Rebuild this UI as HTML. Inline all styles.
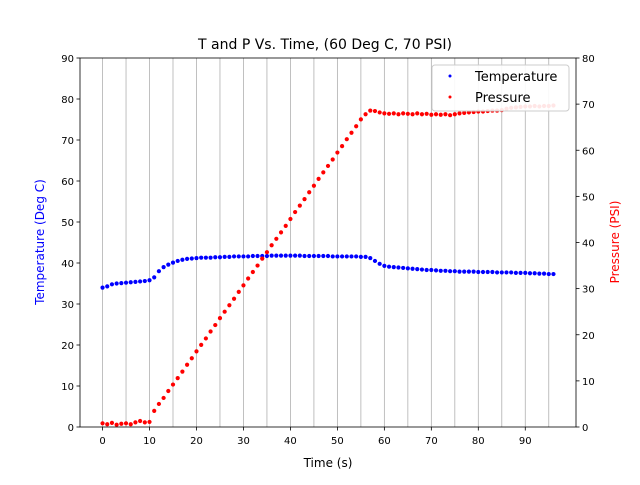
<!DOCTYPE html>
<html><head><meta charset="utf-8"><style>
body{margin:0;background:#fff;}
svg text{font-family:"DejaVu Sans","Liberation Sans",sans-serif;}
</style></head><body>
<svg id="c" width="640" height="480" xmlns="http://www.w3.org/2000/svg">
<rect width="640" height="480" fill="#fff"/>
<text x="325" y="49" font-size="14" text-anchor="middle">T and P Vs. Time, (60 Deg C, 70 PSI)</text>
<g id="grid"></g><g id="marks"></g><g id="axes"></g>
<text x="328" y="467" font-size="12" text-anchor="middle">Time (s)</text>
<text transform="translate(44,242) rotate(-90)" font-size="12" fill="blue" text-anchor="middle">Temperature (Deg C)</text>
<text transform="translate(619,242) rotate(-90)" font-size="12" fill="red" text-anchor="middle">Pressure (PSI)</text>
<g>
<rect x="432" y="65" width="137" height="46" rx="3" fill="#fff" fill-opacity="0.9" stroke="#ccc"/>
<circle cx="450" cy="76" r="1.5" fill="blue"/>
<text x="475" y="81" font-size="13">Temperature</text>
<circle cx="450" cy="97" r="1.5" fill="red"/>
<text x="475" y="102" font-size="13">Pressure</text>
</g>
</svg>
<script>
const times=[0,1,2,3,4,5,6,7,8,9,10,11,12,13,14,15,16,17,18,19,20,21,22,23,24,25,26,27,28,29,30,31,32,33,34,35,36,37,38,39,40,41,42,43,44,45,46,47,48,49,50,51,52,53,54,55,56,57,58,59,60,61,62,63,64,65,66,67,68,69,70,71,72,73,74,75,76,77,78,79,80,81,82,83,84,85,86,87,88,89,90,91,92,93,94,95,96];
const temperature=[34,34.3,34.8,35,35.1,35.2,35.3,35.4,35.5,35.6,35.8,36.5,38,39,39.6,40.1,40.5,40.8,41,41.1,41.2,41.3,41.3,41.3,41.4,41.4,41.5,41.5,41.6,41.6,41.6,41.6,41.7,41.7,41.7,41.7,41.8,41.8,41.8,41.8,41.8,41.8,41.8,41.7,41.7,41.7,41.7,41.7,41.7,41.6,41.6,41.6,41.6,41.6,41.6,41.5,41.5,41.2,40.5,39.8,39.3,39.1,39,38.9,38.8,38.7,38.6,38.5,38.4,38.3,38.3,38.2,38.1,38.1,38,38,37.9,37.9,37.9,37.9,37.8,37.8,37.8,37.8,37.7,37.7,37.7,37.7,37.6,37.6,37.6,37.5,37.5,37.4,37.4,37.3,37.3];
const pressure=[0.8,0.6,0.9,0.5,0.7,0.8,0.6,1.0,1.3,1.0,1.1,3.5,5,6.3,7.8,9.2,10.6,12,13.5,14.9,16.4,17.8,19.2,20.7,22.1,23.6,25,26.4,27.8,29.3,30.7,32.2,33.6,35,36.5,37.9,39.4,40.8,42.2,43.6,45.1,46.6,48,49.4,50.9,52.3,53.8,55.2,56.6,58,59.5,60.9,62.4,63.8,65.2,66.7,67.8,68.6,68.5,68.2,68,67.9,68,67.8,68,67.9,67.8,68,67.8,67.9,67.7,67.8,67.7,67.8,67.6,67.8,68,68.1,68.2,68.3,68.4,68.4,68.5,68.6,68.6,68.7,69,69.2,69.3,69.4,69.5,69.5,69.6,69.5,69.6,69.6,69.7];
const xTicks=[0,10,20,30,40,50,60,70,80,90];
const xGrid=[0,5,10,15,20,25,30,35,40,45,50,55,60,65,70,75,80,85,90,95];
const leftTicks=[0,10,20,30,40,50,60,70,80,90];
const rightTicks=[0,10,20,30,40,50,60,70,80];
const L=80,R=576,T=58,B=427,xmin=-4.8,xmax=100.8;
const sx=v=>L+(v-xmin)/(xmax-xmin)*(R-L);
const syL=v=>B-v/90*(B-T);
const syR=v=>B-v/80*(B-T);
const NS='http://www.w3.org/2000/svg';
function mk(tag,parent,attrs){const e=document.createElementNS(NS,tag);for(const k in attrs)e.setAttribute(k,attrs[k]);parent.appendChild(e);return e;}
const grid=document.getElementById('grid'),marks=document.getElementById('marks'),axes=document.getElementById('axes');
xGrid.forEach(v=>{const l=mk('line',grid,{x1:sx(v),x2:sx(v),y1:T,y2:B,stroke:'#b0b0b0','stroke-width':0.8});

});
times.forEach((t,i)=>{const c=mk('circle',marks,{cx:sx(t),cy:syL(temperature[i]),r:2.1,fill:'blue'});

});
times.forEach((t,i)=>{const c=mk('circle',marks,{cx:sx(t),cy:syR(pressure[i]),r:2.1,fill:'red'});

});
const fr=mk('rect',axes,{x:L,y:T,width:R-L,height:B-T,fill:'none',stroke:'#000','stroke-width':0.8});


xTicks.forEach(v=>{mk('line',axes,{x1:sx(v),x2:sx(v),y1:B,y2:B+3.5,stroke:'#000','stroke-width':0.8});
const t=mk('text',axes,{x:sx(v),y:B+17,'font-size':10,'text-anchor':'middle'});t.textContent=v;

});
leftTicks.forEach(v=>{mk('line',axes,{x1:L-3.5,x2:L,y1:syL(v),y2:syL(v),stroke:'#000','stroke-width':0.8});
const t=mk('text',axes,{x:L-6,y:syL(v)+4,'font-size':10,'text-anchor':'end'});t.textContent=v;

});
rightTicks.forEach(v=>{mk('line',axes,{x1:R,x2:R+3.5,y1:syR(v),y2:syR(v),stroke:'#000','stroke-width':0.8});
const t=mk('text',axes,{x:R+6,y:syR(v)+4,'font-size':10});t.textContent=v;

});
</script>
</body></html>
